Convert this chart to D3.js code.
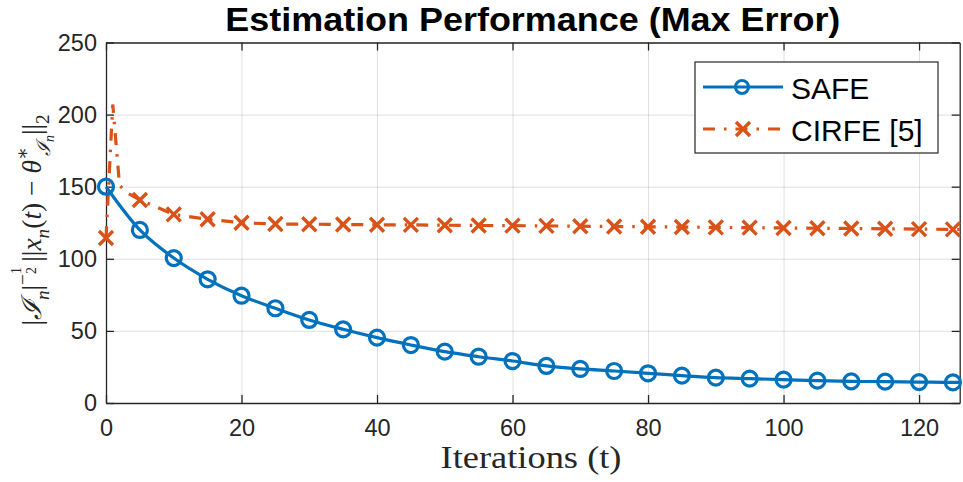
<!DOCTYPE html>
<html>
<head>
  <meta charset="utf-8">
  <title>Estimation Performance (Max Error)</title>
  <script src="https://d3js.org/d3.v7.min.js"></script>
  <style>
    body { margin: 0; background: #fff; }
    .tick text { font-family: "Liberation Sans", Arial, sans-serif; fill: #262626; }
  </style>
</head>
<body>
  <svg id="screen"></svg>

  <script>
    // iterations where markers are drawn (every 5)
    const safeT = [0, 5, 10, 15, 20, 25, 30, 35, 40, 45, 50, 55, 60, 65, 70, 75, 80, 85, 90, 95, 100, 105, 110, 115, 120, 125, 126]
    const safeVal = [150, 120, 100.5, 85.8, 74.4, 65.7, 57.6, 51.1, 45.3, 40.2, 35.6, 32.1, 29.1, 25.7, 23.6, 22.2, 20.6, 19.0, 17.6, 16.9, 16.2, 15.5, 15.0, 14.8, 14.5, 14.3, 14.3]

    // CIRFE [5] has a spike in the first iterations
    const cirfeT = [0, 1, 2, 3, 4, 5, 10, 15, 20, 25, 30, 35, 40, 45, 50, 55, 60, 65, 70, 75, 80, 85, 90, 95, 100, 105, 110, 115, 120, 125, 126]
    const cirfeVal = [114.4, 207, 151, 146, 143.5, 140.8, 130.8, 127.4, 125.0, 124.1, 124.0, 123.8, 123.6, 123.5, 123.3, 123.1, 123.0, 122.8, 122.6, 122.4, 122.2, 122.0, 121.8, 121.6, 121.4, 121.2, 121.0, 120.8, 120.6, 120.4, 120.4]

    const xTicks = [0, 20, 40, 60, 80, 100, 120]
    const yTicks = [0, 50, 100, 150, 200, 250]
    const seriesNames = ["SAFE", "CIRFE [5]"]

    const W = 963, H = 482
    const plot = {left: 106, right: 959.7, top: 42.5, bottom: 403}
    const blue = "#0072BD", orange = "#D95319", axisCol = "#262626"
    const dashDot = "12,9,2.5,9"

    const svg = d3.select("#screen").attr("width", W).attr("height", H)
    svg.append("rect").attr("width", W).attr("height", H).attr("fill", "#fff")

    const x = d3.scaleLinear().domain([0, 126]).range([plot.left, plot.right])
    const y = d3.scaleLinear().domain([0, 250]).range([plot.bottom, plot.top])

    // grid
    svg.append("g")
       .attr("transform", `translate(0,${plot.bottom})`)
       .call(d3.axisBottom(x).tickValues(xTicks).tickSize(-(plot.bottom - plot.top)).tickFormat(""))
       .call(g => g.select(".domain").remove())
       .selectAll("line").attr("stroke", axisCol).attr("stroke-opacity", 0.15)
    svg.append("g")
       .attr("transform", `translate(${plot.left},0)`)
       .call(d3.axisLeft(y).tickValues(yTicks).tickSize(-(plot.right - plot.left)).tickFormat(""))
       .call(g => g.select(".domain").remove())
       .selectAll("line").attr("stroke", axisCol).attr("stroke-opacity", 0.15)

    // axes (ticks inward on all four sides)
    const tk = 8
    const bottomAx = svg.append("g").attr("transform", `translate(0,${plot.bottom})`)
       .call(d3.axisBottom(x).tickValues(xTicks).tickSizeInner(-tk).tickSizeOuter(0).tickPadding(16.5))
    const leftAx = svg.append("g").attr("transform", `translate(${plot.left},0)`)
       .call(d3.axisLeft(y).tickValues(yTicks).tickSizeInner(-tk).tickSizeOuter(0).tickPadding(9))
    const topAx = svg.append("g").attr("transform", `translate(0,${plot.top})`)
       .call(d3.axisTop(x).tickValues(xTicks).tickSizeInner(-tk).tickSizeOuter(0).tickFormat(""))
    const rightAx = svg.append("g").attr("transform", `translate(${plot.right},0)`)
       .call(d3.axisRight(y).tickValues(yTicks).tickSizeInner(-tk).tickSizeOuter(0).tickFormat(""))
    ;[bottomAx, leftAx, topAx, rightAx].forEach(g => {
      g.select(".domain").attr("stroke", axisCol).attr("stroke-width", 1.3)
      g.selectAll(".tick line").attr("stroke", axisCol).attr("stroke-width", 1.3)
      g.selectAll("text").attr("font-size", 23.5)
    })

    // data
    const safe = safeT.map((t, i) => ({t: t, v: safeVal[i]}))
    const cirfe = cirfeT.map((t, i) => ({t: t, v: cirfeVal[i]}))

    const lineSmooth = d3.line().x(d => x(d.t)).y(d => y(d.v)).curve(d3.curveMonotoneX)
    const lineStraight = d3.line().x(d => x(d.t)).y(d => y(d.v))

    svg.append("path").datum(cirfe)
       .attr("d", lineStraight)
       .attr("fill", "none").attr("stroke", orange).attr("stroke-width", 3.2)
       .attr("stroke-dasharray", dashDot)
    svg.append("path").datum(safe)
       .attr("d", lineSmooth)
       .attr("fill", "none").attr("stroke", blue).attr("stroke-width", 3.2)

    const xMark = "M-7,-7L7,7M-7,7L7,-7"
    svg.append("g").selectAll("path")
       .data(cirfe.filter(d => d.t % 5 === 0))
       .join("path")
       .attr("transform", d => `translate(${x(d.t)},${y(d.v)})`)
       .attr("d", xMark).attr("fill", "none").attr("stroke", orange).attr("stroke-width", 3.4)
    svg.append("g").selectAll("circle")
       .data(safe.filter(d => d.t % 5 === 0))
       .join("circle")
       .attr("cx", d => x(d.t)).attr("cy", d => y(d.v)).attr("r", 7.5)
       .attr("fill", "none").attr("stroke", blue).attr("stroke-width", 3.2)

    // title
    svg.append("text")
       .attr("x", (plot.left + plot.right) / 2).attr("y", 31)
       .attr("text-anchor", "middle")
       .attr("font-family", "'Liberation Sans', Arial, sans-serif")
       .attr("font-weight", "bold").attr("font-size", 34)
       .attr("textLength", 615).attr("lengthAdjust", "spacingAndGlyphs")
       .attr("fill", "#000")
       .text("Estimation Performance (Max Error)")

    // x label
    svg.append("text")
       .attr("x", 531).attr("y", 468)
       .attr("text-anchor", "middle")
       .attr("font-family", "'Liberation Serif', 'DejaVu Serif', serif")
       .attr("font-size", 32).attr("fill", "#262626")
       .attr("textLength", 181).attr("lengthAdjust", "spacingAndGlyphs")
       .text("Iterations (t)")

    // y label: |I_n|^{-1/2} ||x_n(t) - theta*_{I_n}||_2
    // [text, level (em, + is up), scale, italic, dx (em)]
    const yParts = [
      ["|", 0, 1, false, 0],
      ["\u2110", 0, 1, true, 0],
      ["n", -0.3, 0.7, true, 0],
      ["|", 0, 1, false, 0],
      ["\u2212", 0.42, 0.7, false, 0],
      ["1", 0.72, 0.5, false, 0],
      ["2", 0.2, 0.5, false, -0.25],
      ["\u2009||", 0, 1, false, 0],
      ["x", 0, 1, true, 0],
      ["n", -0.3, 0.7, true, 0],
      ["(", 0, 1, false, 0],
      ["t", 0, 1, true, 0],
      [")", 0, 1, false, 0],
      [" \u2212 ", 0, 1, false, 0],
      ["\u03B8", 0, 1, true, 0],
      ["\u2217", 0.42, 0.7, false, 0],
      ["\u2110", -0.32, 0.7, true, -0.33],
      ["n", -0.48, 0.5, true, 0],
      ["||", 0, 1, false, 0],
      ["2", -0.3, 0.7, false, 0]
    ]
    const fs = 27.5
    const yl = svg.append("text")
       .attr("transform", "translate(41,220) rotate(-90)")
       .attr("text-anchor", "middle")
       .attr("font-family", "'Liberation Serif', 'DejaVu Serif', serif")
       .attr("font-size", fs).attr("fill", "#262626")
    let prev = 0
    yParts.forEach(p => {
      yl.append("tspan")
        .attr("dy", -(p[1] - prev) * fs)
        .attr("dx", p[4] * fs)
        .attr("font-size", p[2] * fs)
        .attr("font-style", p[3] ? "italic" : "normal")
        .text(p[0])
      prev = p[1]
    })

    // legend
    const lg = svg.append("g")
    lg.append("rect").attr("x", 695).attr("y", 62).attr("width", 243).attr("height", 91)
      .attr("fill", "#fff").attr("stroke", axisCol).attr("stroke-width", 1.2)
    const rows = [87, 129]
    lg.append("line").attr("x1", 703).attr("x2", 783).attr("y1", rows[0]).attr("y2", rows[0])
      .attr("stroke", blue).attr("stroke-width", 3.2)
    lg.append("circle").attr("cx", 742).attr("cy", rows[0]).attr("r", 6.5)
      .attr("fill", "none").attr("stroke", blue).attr("stroke-width", 3)
    lg.append("line").attr("x1", 703).attr("x2", 783).attr("y1", rows[1]).attr("y2", rows[1])
      .attr("stroke", orange).attr("stroke-width", 3.2).attr("stroke-dasharray", dashDot)
    lg.append("path").attr("transform", `translate(743,${rows[1]})`).attr("d", xMark)
      .attr("fill", "none").attr("stroke", orange).attr("stroke-width", 3.4)
    lg.selectAll("text.lab").data(seriesNames).join("text")
      .attr("class", "lab")
      .attr("x", 791).attr("y", (d, i) => rows[i] + 11.5)
      .attr("font-family", "'Liberation Sans', Arial, sans-serif")
      .attr("font-size", 30).attr("fill", "#000")
      .text(d => d)
  </script>
</body>
</html>
